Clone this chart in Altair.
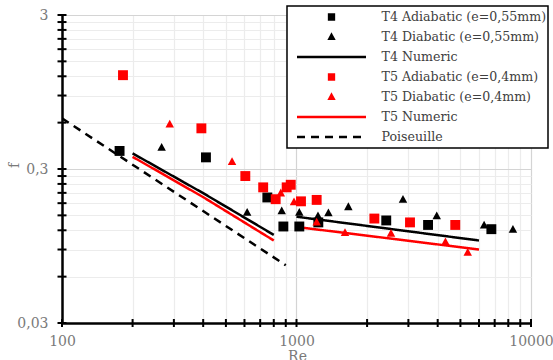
import altair as alt
import pandas as pd

# ---------------- data ----------------
names = ["T4 Adiabatic (e=0,55mm)", "T4 Diabatic (e=0,55mm)", "T4 Numeric",
         "T5 Adiabatic (e=0,4mm)", "T5 Diabatic (e=0,4mm)", "T5 Numeric", "Poiseuille"]

t4a_re = [176, 411, 751, 879, 1028, 1239, 2414, 3640, 6776]
t4a_f = [0.393, 0.357, 0.196, 0.127, 0.127, 0.135, 0.139, 0.130, 0.122]

t4d_re = [266, 616, 865, 1028, 1235, 1368, 1664, 2845, 3963, 6310, 8375]
t4d_f = [0.415, 0.157, 0.161, 0.157, 0.149, 0.156, 0.171, 0.191, 0.149, 0.130, 0.122]

t5a_re = [182, 393, 605, 721, 815, 908, 945, 1045, 1219, 2148, 3048, 4753]
t5a_f = [1.22, 0.551, 0.270, 0.228, 0.191, 0.228, 0.237, 0.185, 0.189, 0.143, 0.135, 0.130]

t5d_re = [288, 531, 857, 976, 1219, 1610, 2529, 4316, 5373]
t5d_f = [0.588, 0.336, 0.210, 0.184, 0.136, 0.116, 0.115, 0.101, 0.0864]

t4n_re = [200, 400, 800, 1000, 6000]
t4n_f = [0.379, 0.209, 0.112, 0.147, 0.103]
t4n_seg = [1, 1, 1, 2, 2]

t5n_re = [200, 400, 800, 1050, 6000]
t5n_f = [0.360, 0.197, 0.103, 0.125, 0.090]
t5n_seg = [1, 1, 1, 2, 2]

pois_re = [100, 900]
pois_f = [0.64, 0.0711]
pois_seg = [1, 1]

x_ticks = [100, 200, 300, 400, 500, 600, 700, 800, 900,
           1000, 2000, 3000, 4000, 5000, 6000, 7000, 8000, 9000, 10000]
y_ticks = [0.03, 0.06, 0.09, 0.12, 0.15, 0.18, 0.21, 0.24, 0.27,
           0.3, 0.6, 0.9, 1.2, 1.5, 1.8, 2.1, 2.4, 2.7, 3]
x_major = [100, 1000, 10000]
x_labels = ["100", "1000", "10000"]
y_major = [0.03, 0.3, 3]
y_labels = ["0,03", "0,3", "3"]

# ---------------- tables ----------------
def pts(name, re, f):
    return pd.DataFrame({"series": name, "Re": re, "f": f})

def lines(name, re, f, seg):
    return pd.DataFrame({"series": name, "Re": re, "f": f, "seg": seg})

points_df = pd.concat([pts(names[0], t4a_re, t4a_f), pts(names[1], t4d_re, t4d_f),
                       pts(names[3], t5a_re, t5a_f), pts(names[4], t5d_re, t5d_f)])
lines_df = pd.concat([lines(names[2], t4n_re, t4n_f, t4n_seg),
                      lines(names[5], t5n_re, t5n_f, t5n_seg),
                      lines(names[6], pois_re, pois_f, pois_seg)])
xt_df = pd.DataFrame({"Re": x_ticks})
yt_df = pd.DataFrame({"f": y_ticks})

# ---------------- styling ----------------
FONT = "DejaVu Serif"
SQ = "M-0.07,-0.07H0.07V0.07H-0.07Z"
TRI = "M0,-0.06L0.06,0.05L-0.06,0.05Z"
LN = "M-1,0H1"
colors = ["black", "black", "black", "#ff0000", "#ff0000", "#ff0000", "black"]
shapes = [SQ, TRI, LN, SQ, TRI, LN, LN]
dashes = [[1, 0], [1, 0], [1, 0], [1, 0], [1, 0], [1, 0], [8, 6]]

def label_expr(vals, labs):
    expr = "''"
    for v, l in reversed(list(zip(vals, labs))):
        expr = f"datum.value == {v} ? '{l}' : ({expr})"
    return expr

x_grid_color = {"condition": {"test": f"indexof({x_major}, datum.value) >= 0", "value": "#d4d4d4"},
                "value": "#ececec"}
y_grid_color = {"condition": {"test": f"indexof({y_major}, datum.value) >= 0", "value": "#d4d4d4"},
                "value": "#ececec"}

x_enc = alt.X("Re:Q", scale=alt.Scale(type="log", domain=[100, 10000], nice=False),
              axis=alt.Axis(values=x_ticks, grid=True, gridColor=x_grid_color, gridWidth=1.2,
                            ticks=False, domainColor="black", domainWidth=2.5,
                            labelExpr=label_expr(x_major, x_labels), labelFont=FONT,
                            labelFontSize=14, labelColor="#7a7a7a", labelPadding=11,
                            labelOverlap=False, labelFlush=False,
                            title="Re", titleFont=FONT, titleFontSize=14, titleFontWeight="normal",
                            titleColor="#7a7a7a", titleX=235, titleY=37,
                            titleBaseline="alphabetic", titleAlign="center"))
y_enc = alt.Y("f:Q", scale=alt.Scale(type="log", domain=[0.03, 3], nice=False),
              axis=alt.Axis(values=y_ticks, grid=True, gridColor=y_grid_color, gridWidth=1.2,
                            ticks=False, domainColor="black", domainWidth=2.5,
                            labelExpr=label_expr(y_major, y_labels), labelFont=FONT,
                            labelFontSize=14, labelColor="#7a7a7a", labelPadding=14,
                            labelOverlap=False, labelFlush=False,
                            title="f", titleFont=FONT, titleFontSize=14, titleFontWeight="normal",
                            titleColor="#7a7a7a", titleX=-48, titleY=150,
                            titleAlign="center", titleBaseline="middle"))

leg = alt.Legend(title=None, orient="none", legendX=225, legendY=-9, direction="vertical",
                 symbolSize=4761, symbolStrokeWidth=2.5, clipHeight=20, rowPadding=0,
                 padding=1, symbolOffset=7.5, labelOffset=14, labelFont=FONT,
                 labelFontSize=12.6, labelColor="#404040", labelLimit=400,
                 strokeColor="black", fillColor="white", symbolOpacity=1)

color_enc = alt.Color("series:N", scale=alt.Scale(domain=names, range=colors), legend=leg)
shape_enc = alt.Shape("series:N", scale=alt.Scale(domain=names, range=shapes), legend=leg)
dash_enc = alt.StrokeDash("series:N", scale=alt.Scale(domain=names, range=dashes), legend=leg)

line_layer = alt.Chart(lines_df).mark_line(strokeWidth=2.5, clip=True).encode(
    x=x_enc, y=y_enc, color=color_enc, strokeDash=dash_enc, detail="seg:N")

point_layer = alt.Chart(points_df).mark_point(filled=True, size=20000, opacity=1,
                                              strokeWidth=0).encode(
    x=x_enc, y=y_enc, color=color_enc, shape=shape_enc)

xtick_layer = alt.Chart(xt_df).mark_tick(orient="vertical", size=8, thickness=2,
                                         color="black", opacity=1).encode(
    x=x_enc, y=alt.value(308))
ytick_layer = alt.Chart(yt_df).mark_tick(orient="horizontal", size=9, thickness=2,
                                         color="black", opacity=1).encode(
    y=y_enc, x=alt.value(0))

chart = alt.layer(line_layer, point_layer, xtick_layer, ytick_layer).properties(
    width=469, height=308,
    autosize=alt.AutoSizeParams(type="none"),
    padding={"left": 62, "top": 15, "right": 22, "bottom": 37},
    background="white",
).configure_view(stroke=None).configure_legend(strokeWidth=1.5)

chart.save("out.html", embed_options={"renderer": "svg", "actions": False})
